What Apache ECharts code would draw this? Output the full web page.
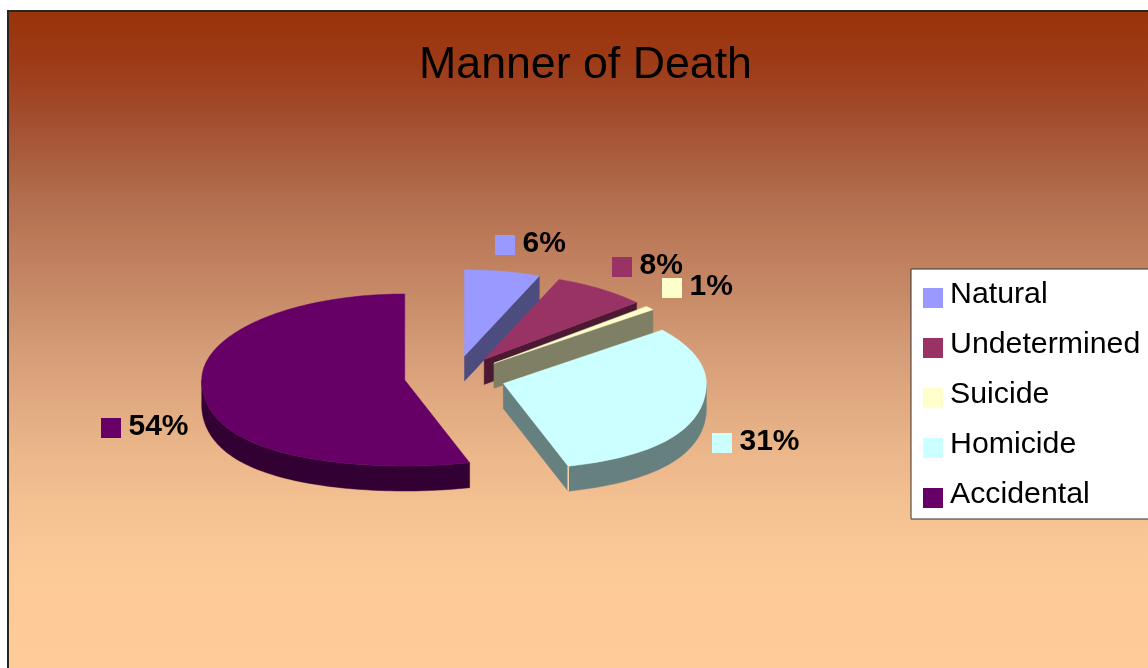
<!DOCTYPE html>
<html>
<head>
<meta charset="utf-8">
<title>Manner of Death</title>
<style>
html,body{margin:0;padding:0;background:#fff;}
#main{width:1148px;height:668px;}
</style>
<script src="https://cdn.jsdelivr.net/npm/echarts@6/dist/echarts.min.js"></script>
</head>
<body>
<div id="main"></div>
<script>
var categories = ['Natural', 'Undetermined', 'Suicide', 'Homicide', 'Accidental'];
// they round to the printed 6 / 8 / 1 / 31 / 54
var values = [6.0, 7.5, 0.8, 31.2, 54.4];
var percentLabels = ['6%', '8%', '1%', '31%', '54%'];
var colors = ['#9999FF', '#993366', '#FFFFCC', '#CCFFFF', '#660066'];

// where each data label key sits (left, top of the little square)
var labelSpots = [[495, 235], [612, 257], [662, 278], [712, 433], [101, 418]];

var FONT = '"Liberation Sans", Arial, sans-serif';
// near: how much wider the front of the pie draws than the back
var pie = {cx: 455, cy: 377, rx: 203, ry: 86, depth: 25, explode: 0.25, near: 0.17};

var chart = echarts.init(document.getElementById('main'), null, {renderer: 'canvas'});

var total = values.reduce(function (a, b) { return a + b; }, 0);
var startAngles = [];
values.reduce(function (sum, v, i) {
  startAngles[i] = sum / total * 360;
  return sum + v;
}, 0);

function rad(a) { return a * Math.PI / 180; }

// angle is clockwise from 12 o'clock
function rim(ox, oy, a) {
  var c = Math.cos(rad(a));
  var widen = c < 0 ? 1 + pie.near * c * c : 1;
  return [ox + Math.sin(rad(a)) * pie.rx * widen, oy - c * pie.ry];
}

function down(p) { return [p[0], p[1] + pie.depth]; }

// side faces are the slice colour at half brightness
function halfShade(hex) {
  var n = parseInt(hex.slice(1), 16);
  var r = (n >> 16) >> 1, g = ((n >> 8) & 255) >> 1, b = (n & 255) >> 1;
  return 'rgb(' + r + ',' + g + ',' + b + ')';
}

function renderSlice(i) {
  return function () {
    var a1 = startAngles[i];
    var a2 = a1 + values[i] / total * 360;
    var mid = (a1 + a2) / 2;
    var ox = pie.cx + Math.sin(rad(mid)) * pie.rx * pie.explode;
    var oy = pie.cy - Math.cos(rad(mid)) * pie.ry * pie.explode;
    var apex = [ox, oy];
    var side = halfShade(colors[i]);
    var children = [];

    function arcPoints(from, to) {
      var pts = [];
      var n = Math.max(2, Math.ceil((to - from) / 1.5));
      for (var k = 0; k <= n; k++) {
        pts.push(rim(ox, oy, from + (to - from) * k / n));
      }
      return pts;
    }

    function wall(pts) {
      var bottom = pts.map(down).reverse();
      children.push({
        type: 'polygon',
        shape: {points: pts.concat(bottom)},
        style: {fill: side, stroke: side, lineWidth: 0.5}
      });
    }

    // radial faces only show when they point at the viewer
    var endFace = Math.sin(rad(a2)) > 0.001;
    if (endFace) wall([apex, rim(ox, oy, a2)]);
    if (Math.sin(rad(a1)) < -0.001) wall([apex, rim(ox, oy, a1)]);

    // outer wall, front half of the ellipse only
    var f1 = Math.max(a1, 90);
    var f2 = Math.min(a2, 270);
    if (f2 > f1) wall(arcPoints(f1, f2));

    // the thin light seam where radial face meets outer wall
    if (endFace && f2 > f1) {
      var corner = rim(ox, oy, a2);
      children.push({
        type: 'line',
        shape: {x1: corner[0], y1: corner[1], x2: corner[0], y2: corner[1] + pie.depth},
        style: {stroke: '#F5D2A8', lineWidth: 1.5}
      });
    }

    children.push({
      type: 'polygon',
      shape: {points: [apex].concat(arcPoints(a1, a2))},
      style: {fill: colors[i], stroke: colors[i], lineWidth: 0.5}
    });

    // data label: key square + bold percent
    var spot = labelSpots[i];
    children.push({
      type: 'rect',
      shape: {x: spot[0], y: spot[1], width: 20, height: 20},
      style: {fill: colors[i]},
      z2: 20
    });
    children.push({
      type: 'text',
      style: {
        text: percentLabels[i],
        x: spot[0] + 27.5,
        y: spot[1] + 9,
        font: 'bold 30px ' + FONT,
        fill: '#000',
        verticalAlign: 'middle'
      },
      z2: 21
    });

    return {type: 'group', children: children};
  };
}

var series = categories.map(function (name, i) {
  return {
    name: name,
    type: 'custom',
    coordinateSystem: 'none',
    silent: true,
    animation: false,
    itemStyle: {color: colors[i]},
    renderItem: renderSlice(i),
    data: [[values[i]]]
  };
});

// top to bottom, the fade is not quite linear
var fadeStops = [
  [11, '#99330A'], [60, '#9D3A16'], [100, '#A04626'], [150, '#A85A3A'],
  [200, '#B26E4E'], [250, '#BE7D5C'], [300, '#C88C69'], [350, '#D49C77'],
  [400, '#E0A980'], [450, '#EBB68A'], [500, '#F3C091'], [550, '#FAC896'],
  [600, '#FECB98'], [691, '#FFCC99']
];

var option = {
  animation: false,
  title: {
    text: 'Manner of Death',
    left: 580.5,
    textAlign: 'center',
    top: 38,
    textStyle: {fontFamily: FONT, fontSize: 44.7, fontWeight: 'normal', color: '#000'}
  },
  legend: {
    orient: 'vertical',
    left: 911,
    top: 269,
    padding: [11, 80, 3, 12],
    backgroundColor: '#fff',
    borderColor: '#333',
    borderWidth: 1,
    borderRadius: 0,
    itemWidth: 20,
    itemHeight: 20,
    itemGap: 14,
    icon: 'rect',
    selectedMode: false,
    data: categories,
    formatter: function (name) { return '{t|' + name + '}'; },
    textStyle: {
      rich: {
        // bottom padding lifts the word above the key, as in the reference
        t: {
          fontFamily: FONT,
          fontSize: 30.3,
          color: '#000',
          lineHeight: 20,
          padding: [0, 0, 6, 2]
        }
      }
    }
  },
  graphic: [{
    type: 'rect',
    silent: true,
    z: 0,
    shape: {x: 8, y: 11, width: 1160, height: 680},
    style: {
      stroke: '#2b2420',
      lineWidth: 2,
      fill: {
        type: 'linear', x: 0, y: 0, x2: 0, y2: 1,
        colorStops: fadeStops.map(function (s) {
          return {offset: (s[0] - 11) / 680, color: s[1]};
        })
      }
    }
  }],
  series: series
};

chart.setOption(option);
window.addEventListener('resize', function () { chart.resize(); });
</script>
</body>
</html>
